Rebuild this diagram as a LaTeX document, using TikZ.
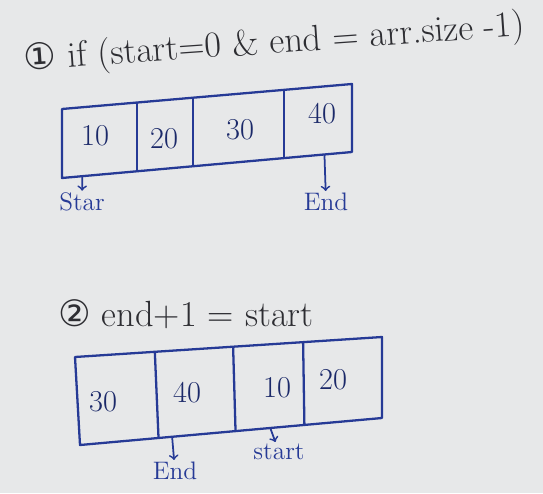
\documentclass[tikz,border=0pt]{standalone}
\usepackage{fontspec}
\usepackage{tikz}
\usetikzlibrary{calc}
\newfontfamily\circfont{DejaVu Sans}
\definecolor{paper}{RGB}{231,232,233}
\definecolor{ink}{RGB}{38,58,150}
\definecolor{pencil}{RGB}{45,45,50}

\begin{document}
\begin{tikzpicture}[x=0.02cm, y=-0.02cm,
    cellline/.style={ink, line width=1.3pt, line join=round},
    cellval/.style={ink!70!black, font=\LARGE},
    pointer/.style={->, ink, line width=1pt},
    ptrlabel/.style={ink, font=\Large, inner sep=1pt},
    heading/.style={pencil, font=\huge, anchor=west}]
    % Paper behind the sketch
    \fill[paper] (0,0) rectangle (543,493);

    % Case 1 heading
    \node[heading, rotate=4] (head1) at (18,62)
        {{\circfont ①} if (start=0 \& end = arr.size -1)};

    % Case 1 array
    \coordinate (a1) at (62,109);
    \coordinate (b1) at (352,84);
    \coordinate (c1) at (352,152);
    \coordinate (d1) at (62,178);
    \draw[cellline] (a1) -- (b1) -- (c1) -- (d1) -- cycle;
    \foreach \f in {0.259,0.452,0.766}
        \draw[cellline] ($(a1)!\f!(b1)$) -- ($(d1)!\f!(c1)$);
    \node[cellval] (v11) at (95,136) {10};
    \node[cellval] (v12) at (164,139) {20};
    \node[cellval] (v13) at (240,130) {30};
    \node[cellval] (v14) at (322,114) {40};

    % Case 1 pointers
    \coordinate (s1) at ($(d1)!0.07!(c1)$);
    \coordinate (e1) at ($(d1)!0.905!(c1)$);
    \node[ptrlabel] (start1) at (82,202) {Star};
    \node[ptrlabel] (end1) at (326,202) {End};
    \draw[pointer] (s1) -- (start1);
    \draw[pointer] (e1) -- (end1);

    % Case 2 heading
    \node[heading] (head2) at (52,314)
        {{\circfont ②} end+1 = start};

    % Case 2 array
    \coordinate (a2) at (75,357);
    \coordinate (b2) at (382,337);
    \coordinate (c2) at (382,418);
    \coordinate (d2) at (80,445);
    \draw[cellline] (a2) -- (b2) -- (c2) -- (d2) -- cycle;
    \foreach \f in {0.26,0.515,0.743}
        \draw[cellline] ($(a2)!\f!(b2)$) -- ($(d2)!\f!(c2)$);
    \node[cellval] (v21) at (103,402) {30};
    \node[cellval] (v22) at (187,393) {40};
    \node[cellval] (v23) at (277,388) {10};
    \node[cellval] (v24) at (333,380) {20};

    % Case 2 pointers
    \coordinate (e2) at ($(d2)!0.305!(c2)$);
    \coordinate (s2) at ($(d2)!0.63!(c2)$);
    \node[ptrlabel] (end2) at (175,471) {End};
    \node[ptrlabel] (start2) at (279,452) {start};
    \draw[pointer] (e2) -- (end2);
    \draw[pointer] (s2) -- (start2);
\end{tikzpicture}
\end{document}
